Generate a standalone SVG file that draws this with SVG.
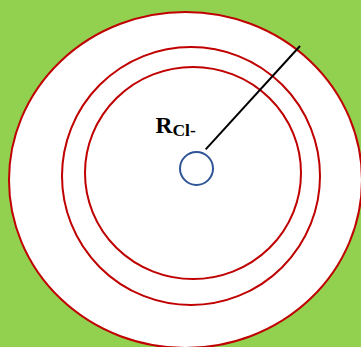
<svg xmlns="http://www.w3.org/2000/svg" width="361" height="347" viewBox="0 0 361 347">
<style>
.ring{fill:none;stroke:#C00000;stroke-width:2}
.lbl{font-family:"Liberation Serif",serif;font-weight:bold;fill:#000}
</style>
<rect x="0" y="0" width="361" height="347" fill="#92D050"/>
<g id="outer"><ellipse cx="185.5" cy="180" rx="176.5" ry="168" fill="#fff" stroke="#C00000" stroke-width="2"/></g>
<g id="middle"><ellipse class="ring" cx="191" cy="176" rx="129" ry="129"/></g>
<g id="inner"><ellipse class="ring" cx="193" cy="173" rx="108" ry="106"/></g>
<g id="connectors"><line x1="205.7" y1="149.3" x2="300" y2="46" stroke="#000" stroke-width="2"/></g>
<g id="ion"><circle cx="196.5" cy="168.5" r="16.5" fill="none" stroke="#2F5597" stroke-width="2"/></g>
<g id="label"><text class="lbl" x="155.5" y="132.5" font-size="23.5">R<tspan font-size="17.5" y="136">Cl-</tspan></text></g>
</svg>
